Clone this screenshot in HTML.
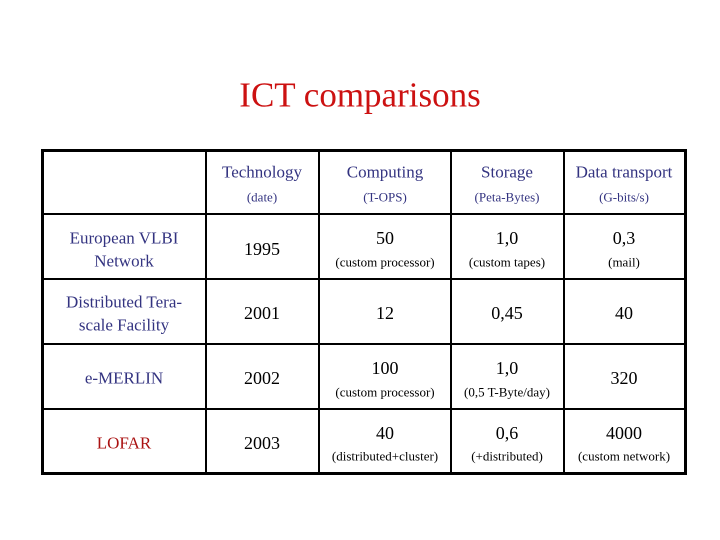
<!DOCTYPE html>
<html><head><style>
body{margin:0;width:720px;height:540px;background:#fff;position:relative;overflow:hidden;font-family:"Liberation Serif","Times New Roman",serif}
.l{position:absolute;background:#000}
.t{position:absolute;transform:translate(-50%,-50%);white-space:nowrap;line-height:1;font-family:"Liberation Serif","Times New Roman",serif}
.b{font-size:18px;color:#000}
.s{font-size:13px;color:#000}
.n{color:#333380}
</style></head><body>
<div class="t" style="left:360px;top:95px;font-size:35px;color:#cc1111">ICT comparisons</div>
<div class="l" style="left:41px;top:149px;width:646px;height:3px"></div>
<div class="l" style="left:41px;top:472px;width:646px;height:3px"></div>
<div class="l" style="left:41px;top:149px;width:3px;height:326px"></div>
<div class="l" style="left:684px;top:149px;width:3px;height:326px"></div>
<div class="l" style="left:205px;top:150px;width:2px;height:324px"></div>
<div class="l" style="left:318px;top:150px;width:2px;height:324px"></div>
<div class="l" style="left:450px;top:150px;width:2px;height:324px"></div>
<div class="l" style="left:563px;top:150px;width:2px;height:324px"></div>
<div class="l" style="left:42px;top:213px;width:644px;height:2px"></div>
<div class="l" style="left:42px;top:278px;width:644px;height:2px"></div>
<div class="l" style="left:42px;top:343px;width:644px;height:2px"></div>
<div class="l" style="left:42px;top:408px;width:644px;height:2px"></div>

<div class="t b n" style="left:262px;top:172px;font-size:17px">Technology</div>
<div class="t b n" style="left:385px;top:172px;font-size:17px">Computing</div>
<div class="t b n" style="left:507px;top:172px;font-size:17px">Storage</div>
<div class="t b n" style="left:624px;top:172px;font-size:17px">Data transport</div>
<div class="t s n" style="left:262px;top:197px">(date)</div>
<div class="t s n" style="left:385px;top:197px">(T-OPS)</div>
<div class="t s n" style="left:507px;top:197px">(Peta-Bytes)</div>
<div class="t s n" style="left:624px;top:197px">(G-bits/s)</div>

<div class="t b n" style="left:124px;top:238px;font-size:17px">European VLBI</div>
<div class="t b n" style="left:124px;top:261px;font-size:17px">Network</div>
<div class="t b n" style="left:124px;top:302px;font-size:17px">Distributed Tera-</div>
<div class="t b n" style="left:124px;top:325px;font-size:17px">scale Facility</div>
<div class="t b n" style="left:124px;top:378px;font-size:17px">e-MERLIN</div>
<div class="t b" style="left:124px;top:443px;font-size:17px;color:#aa1111">LOFAR</div>

<div class="t b" style="left:262px;top:249px">1995</div>
<div class="t b" style="left:262px;top:313px">2001</div>
<div class="t b" style="left:262px;top:378px">2002</div>
<div class="t b" style="left:262px;top:443px">2003</div>

<div class="t b" style="left:385px;top:238px">50</div>
<div class="t s" style="left:385px;top:262px">(custom processor)</div>
<div class="t b" style="left:507px;top:238px">1,0</div>
<div class="t s" style="left:507px;top:262px">(custom tapes)</div>
<div class="t b" style="left:624px;top:238px">0,3</div>
<div class="t s" style="left:624px;top:262px">(mail)</div>

<div class="t b" style="left:385px;top:313px">12</div>
<div class="t b" style="left:507px;top:313px">0,45</div>
<div class="t b" style="left:624px;top:313px">40</div>

<div class="t b" style="left:385px;top:368px">100</div>
<div class="t s" style="left:385px;top:392px">(custom processor)</div>
<div class="t b" style="left:507px;top:368px">1,0</div>
<div class="t s" style="left:507px;top:392px">(0,5 T-Byte/day)</div>
<div class="t b" style="left:624px;top:378px">320</div>

<div class="t b" style="left:385px;top:433px">40</div>
<div class="t s" style="left:385px;top:456px">(distributed+cluster)</div>
<div class="t b" style="left:507px;top:433px">0,6</div>
<div class="t s" style="left:507px;top:456px">(+distributed)</div>
<div class="t b" style="left:624px;top:433px">4000</div>
<div class="t s" style="left:624px;top:456px">(custom network)</div>
</body></html>
